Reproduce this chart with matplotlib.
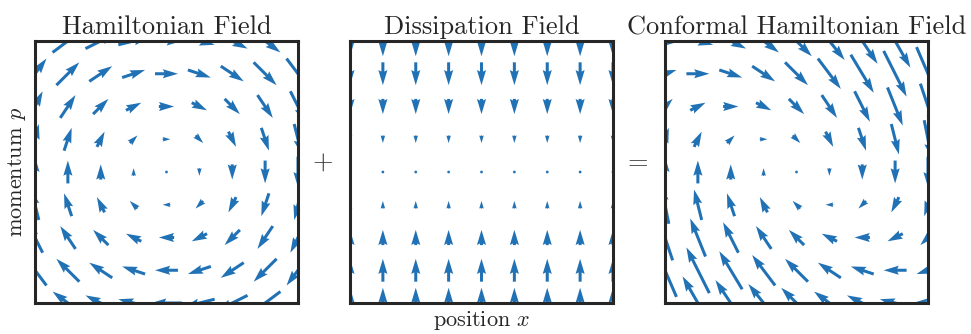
import numpy as np
import matplotlib
matplotlib.use("Agg")
import matplotlib.pyplot as plt

plt.rcParams.update({
    "font.family": "cmr10", "mathtext.fontset": "cm",
    "axes.formatter.use_mathtext": True,
    "text.color": "#262626",
})

# sample grid (position x and momentum p share the same ticks)
grid_x = [-4, -3, -2, -1, 0, 1, 2, 3, 4]
grid_p = [-4, -3, -2, -1, 0, 1, 2, 3, 4]
friction = 1.0
titles = ["Hamiltonian Field", "Dissipation Field", "Conformal Hamiltonian Field"]

BLUE, INK = "#2171b5", "#262626"

X, P = np.meshgrid(grid_x, grid_p)
ham = (P, -X)
diss = (np.zeros_like(P, dtype=float), -friction * P)
conf = (ham[0] + diss[0], ham[1] + diss[1])
fields = [ham, diss, conf]

W, H = 971, 334
fig = plt.figure(figsize=(W / 100, H / 100), dpi=100)
lefts = [35, 350, 665]
axes = []
for left, title, (u, v) in zip(lefts, titles, fields):
    ax = fig.add_axes([left / W, 1 - 303 / H, 263 / W, 262 / H])
    ax.quiver(X, P, u, v, pivot="mid", angles="xy", scale_units="xy", scale=4.3,
              color=BLUE, width=0.0115)
    ax.set_xlim(grid_x[0], grid_x[-1])
    ax.set_ylim(grid_p[0], grid_p[-1])
    ax.set_xticks([]); ax.set_yticks([])
    for s in ax.spines.values():
        s.set_color(INK); s.set_linewidth(2.2)
    ax.set_title(title, fontsize=19, color=INK, pad=5)
    axes.append(ax)

axes[0].set_ylabel("momentum $p$", fontsize=16, color=INK, labelpad=5)
axes[1].set_xlabel("position $x$", fontsize=16, color=INK, labelpad=4)
fig.text(323 / W, 1 - 163 / H, "+", fontsize=19, ha="center", va="center", color=INK)
fig.text(638 / W, 1 - 163 / H, "=", fontsize=19, ha="center", va="center", color=INK)

fig.savefig("out.png", dpi=100)
